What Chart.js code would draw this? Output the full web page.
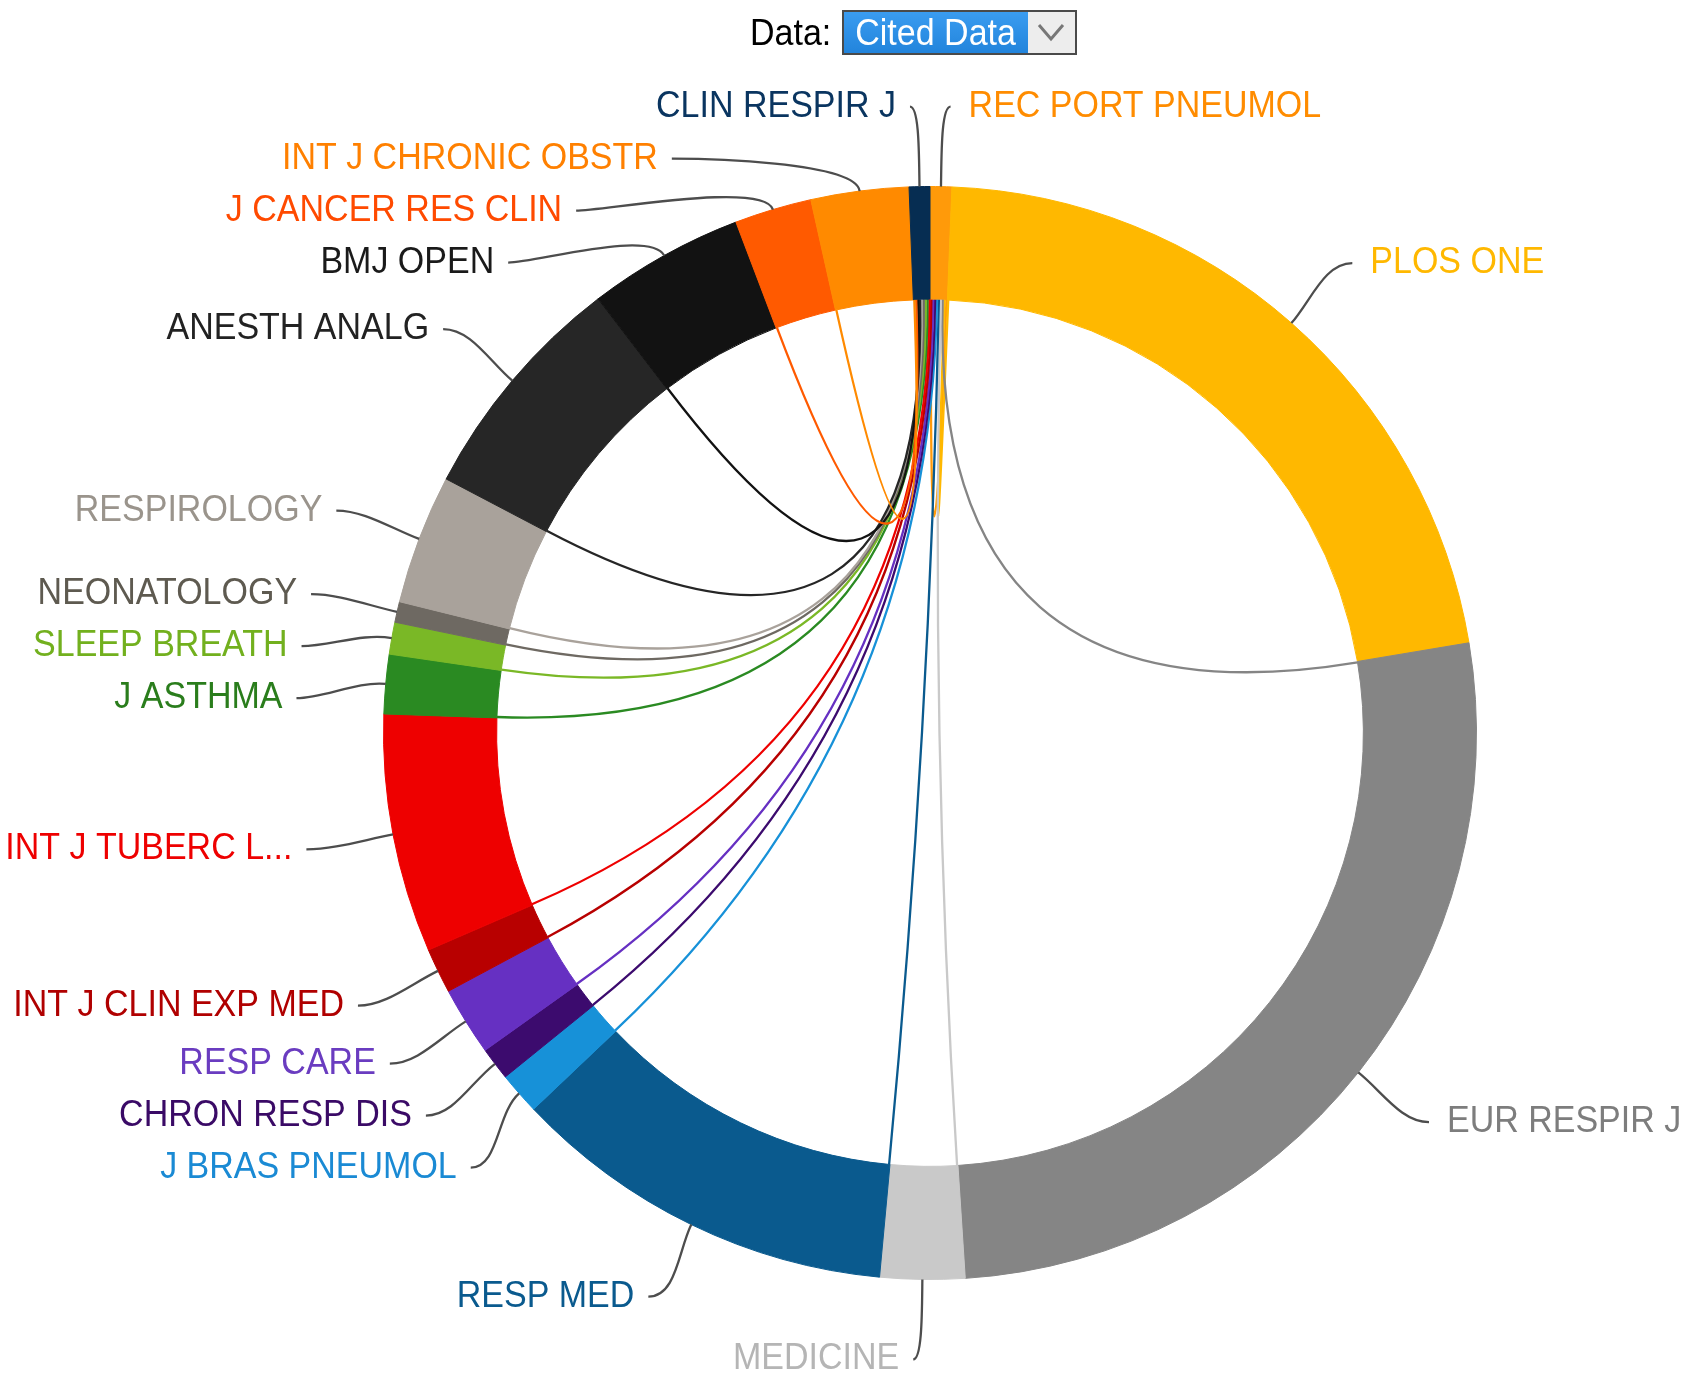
<!DOCTYPE html>
<html>
<head>
<meta charset="utf-8">
<title>Cited Data</title>
<script src="https://cdn.jsdelivr.net/npm/chart.js@4.4.1/dist/chart.umd.min.js"></script>
<style>
  html, body { margin: 0; padding: 0; background: #fff; }
  #wrap { position: relative; width: 1691px; height: 1375px; overflow: hidden; font-family: "Liberation Sans", Arial, sans-serif; }
  #chart { position: absolute; left: 0; top: 0; }
  #picker { position: absolute; left: 750px; top: 9px; height: 46px; display: flex; align-items: center; font-size: 34px; z-index: 2; }
  #picker .lbl { margin-right: 11px; color: #000; display: inline-block; transform: scaleY(1.07); }
  #picker .box { display: flex; height: 41px; border: 2px solid #4a4a4a; background: #ededed; }
  #picker .sel { width: 162px; padding: 0 11px; line-height: 41px; color: #fff; background: linear-gradient(#3a9cf0, #2284dc); }
  #picker .sel span { display: inline-block; transform: scaleY(1.07); }
  #picker .arrow { width: 47px; height: 41px; }
</style>
</head>
<body>
<div id="wrap">
  <canvas id="chart" width="1691" height="1375"></canvas>
  <div id="picker">
    <span class="lbl">Data:</span>
    <div class="box">
      <div class="sel"><span>Cited Data</span></div>
      <svg class="arrow" viewBox="0 0 47 41"><polyline points="11,13 23,27 35,13" fill="none" stroke="#777" stroke-width="3"/></svg>
    </div>
  </div>
</div>
<script>
// journals around the ring, clockwise from 12 o'clock
var journals = ['REC PORT PNEUMOL', 'PLOS ONE', 'EUR RESPIR J', 'MEDICINE', 'RESP MED',
    'J BRAS PNEUMOL', 'CHRON RESP DIS', 'RESP CARE', 'INT J CLIN EXP MED', 'INT J TUBERC L...',
    'J ASTHMA', 'SLEEP BREATH', 'NEONATOLOGY', 'RESPIROLOGY', 'ANESTH ANALG',
    'BMJ OPEN', 'J CANCER RES CLIN', 'INT J CHRONIC OBSTR', 'CLIN RESPIR J'];

// cited counts (estimated from arc sizes)
var citedCounts = [23, 782, 958, 90, 412, 45, 35, 73, 48, 254, 63, 34, 22, 138, 249, 166, 82, 104, 22];

// journal whose citations are shown
var sourceJournal = 'CLIN RESPIR J';

var segmentColors = ['#ff9a0a', '#ffb800', '#858585', '#c9c9c9', '#0a5a8e',
    '#1791d8', '#3c0b6e', '#6630c2', '#b80000', '#ee0000',
    '#2a8a22', '#7ab826', '#6e6962', '#a9a29b', '#262626',
    '#121212', '#ff5a00', '#ff8a00', '#062d52'];

var labelColors = ['#ff8c00', '#ffb800', '#7d7d7d', '#b5b5b5', '#0a5a8e',
    '#1a8ad4', '#3a0a66', '#6a3cc0', '#b00000', '#ee0000',
    '#2a7d1c', '#72b01e', '#5e5a50', '#9a948c', '#222222',
    '#1a1a1a', '#ff4a00', '#ff8000', '#0a3560'];

var LABEL_FONT = '34px "Liberation Sans", Arial, sans-serif';

// chords from the source journal to every other journal
var chordPlugin = {
    id: 'chords',
    afterDatasetsDraw: function(chart) {
        var ctx = chart.ctx;
        var arcs = chart.getDatasetMeta(0).data;
        var srcIndex = journals.indexOf(sourceJournal);
        var src = arcs[srcIndex];
        var next = arcs[(srcIndex + 1) % arcs.length];
        var cx = src.x, cy = src.y, ri = src.innerRadius;
        var a0 = src.startAngle;
        var a1 = next.endAngle + (next.endAngle < a0 ? Math.PI * 2 : 0);
        var targets = [];
        arcs.forEach(function(arc, i) { if (i !== srcIndex) targets.push(i); });

        ctx.save();
        ctx.lineWidth = 2.3;
        targets.forEach(function(i, k) {
            var foot = a1 - (k + 0.5) / targets.length * (a1 - a0);
            var end = arcs[i].startAngle + 0.002;
            ctx.strokeStyle = segmentColors[i];
            ctx.beginPath();
            ctx.moveTo(cx + ri * Math.cos(foot), cy + ri * Math.sin(foot));
            ctx.quadraticCurveTo(cx, cy, cx + ri * Math.cos(end), cy + ri * Math.sin(end));
            ctx.stroke();
        });
        ctx.restore();
    }
};

// outer labels with curved leader lines
var labelPlugin = {
    id: 'outerLabels',
    afterDraw: function(chart) {
        var ctx = chart.ctx;
        var arcs = chart.getDatasetMeta(0).data;
        var cx = arcs[0].x, cy = arcs[0].y, R = arcs[0].outerRadius;
        var RL = R + 80, gap = 52;

        var items = arcs.map(function(arc, i) {
            var mid = (arc.startAngle + arc.endAngle) / 2;
            return {
                i: i, mid: mid,
                left: Math.cos(mid) < 0,
                x: cx + RL * Math.cos(mid),
                y: cy + RL * Math.sin(mid)
            };
        });

        // push overlapping labels down along the label circle
        [true, false].forEach(function(isLeft) {
            var side = items.filter(function(d) { return d.left === isLeft; })
                .sort(function(a, b) { return a.y - b.y; });
            for (var k = 1; k < side.length; k++) {
                if (side[k].y < side[k - 1].y + gap) {
                    side[k].y = side[k - 1].y + gap;
                    var dy = side[k].y - cy;
                    var dx = Math.sqrt(Math.max(RL * RL - dy * dy, 0));
                    side[k].x = cx + (isLeft ? -dx : dx);
                }
            }
        });

        ctx.save();
        ctx.font = LABEL_FONT;
        ctx.textBaseline = 'middle';
        items.forEach(function(d) {
            var s = d.left ? 1 : -1;
            var ax = cx + R * Math.cos(d.mid), ay = cy + R * Math.sin(d.mid);
            var ex = d.x - s * 8, ey = d.y;
            var c1x = ax + 30 * Math.cos(d.mid), c1y = ay + 30 * Math.sin(d.mid);
            var c2x = ex + s * Math.min(28, Math.abs(ax - ex)), c2y = ey;

            ctx.strokeStyle = '#4d4d4d';
            ctx.lineWidth = 2.3;
            ctx.beginPath();
            ctx.moveTo(ax, ay);
            ctx.bezierCurveTo(c1x, c1y, c2x, c2y, ex, ey);
            ctx.stroke();

            ctx.save();
            ctx.translate(ex - s * (d.left ? 14 : 18), ey);
            ctx.scale(1, 1.07);
            ctx.fillStyle = labelColors[d.i];
            ctx.textAlign = d.left ? 'right' : 'left';
            ctx.fillText(journals[d.i], 0, 0);
            ctx.restore();
        });
        ctx.restore();
    }
};

new Chart(document.getElementById('chart'), {
    type: 'doughnut',
    data: {
        labels: journals,
        datasets: [{
            data: citedCounts,
            backgroundColor: segmentColors,
            borderColor: segmentColors,
            borderWidth: 1,
            hoverOffset: 0
        }]
    },
    options: {
        responsive: false,
        animation: false,
        events: [],
        rotation: 0,
        circumference: 360,
        cutout: '79.3%',
        layout: { padding: { left: 383, right: 214, top: 186, bottom: 95 } },
        plugins: {
            legend: { display: false },
            tooltip: { enabled: false }
        }
    },
    plugins: [chordPlugin, labelPlugin]
});
</script>
</body>
</html>
